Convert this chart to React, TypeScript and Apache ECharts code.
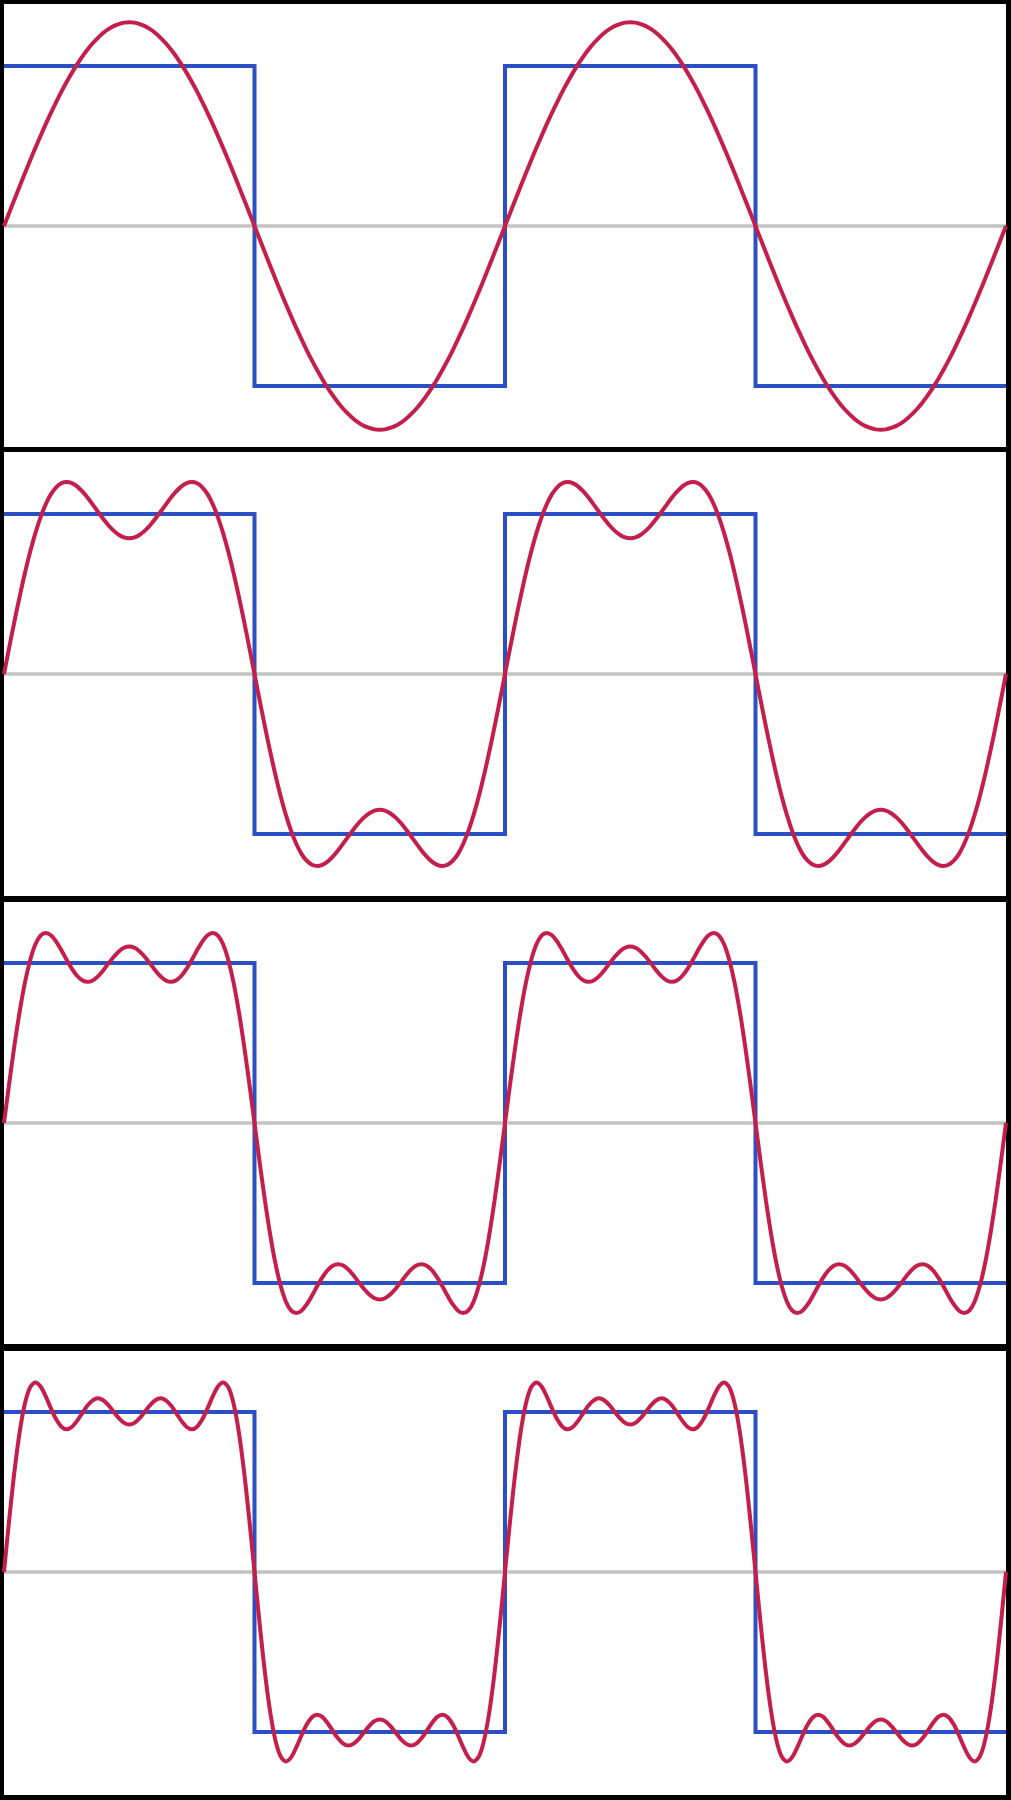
import React, { useEffect, useRef } from "react";
import * as echarts from "echarts";

// Sampling grid: 48 samples per half-period; x runs over two full periods (0..4 half-periods).
const SAMPLES_PER_HALF_PERIOD = 48;

// Square wave (blue): corner points in half-period units, level +-1
const squareX = [0, 1, 1, 2, 2, 3, 3, 4];
const squareY = [1, 1, -1, -1, 1, 1, -1, -1];

// Zero reference line (grey)
const zeroX = [0, 4];
const zeroY = [0, 0];

// Red curves (in units of the square-wave amplitude)
const oneTerm = [
  0, 0.083, 0.166, 0.248, 0.33, 0.409, 0.487, 0.563, 0.637, 0.707, 0.775, 0.84, 0.9, 0.957, 1.01, 1.059, 1.103, 1.142, 1.176, 1.206, 1.23, 1.249, 1.262, 1.271, 1.273, 1.271, 1.262, 1.249, 1.23, 1.206, 1.176, 1.142, 1.103, 1.059, 1.01, 0.957, 0.9, 0.84, 0.775, 0.707, 0.637, 0.563, 0.487, 0.409, 0.33, 0.248, 0.166, 0.083,
  0, -0.083, -0.166, -0.248, -0.33, -0.409, -0.487, -0.563, -0.637, -0.707, -0.775, -0.84, -0.9, -0.957, -1.01, -1.059, -1.103, -1.142, -1.176, -1.206, -1.23, -1.249, -1.262, -1.271, -1.273, -1.271, -1.262, -1.249, -1.23, -1.206, -1.176, -1.142, -1.103, -1.059, -1.01, -0.957, -0.9, -0.84, -0.775, -0.707, -0.637, -0.563, -0.487, -0.409, -0.33, -0.248, -0.166, -0.083,
  0, 0.083, 0.166, 0.248, 0.33, 0.409, 0.487, 0.563, 0.637, 0.707, 0.775, 0.84, 0.9, 0.957, 1.01, 1.059, 1.103, 1.142, 1.176, 1.206, 1.23, 1.249, 1.262, 1.271, 1.273, 1.271, 1.262, 1.249, 1.23, 1.206, 1.176, 1.142, 1.103, 1.059, 1.01, 0.957, 0.9, 0.84, 0.775, 0.707, 0.637, 0.563, 0.487, 0.409, 0.33, 0.248, 0.166, 0.083,
  0, -0.083, -0.166, -0.248, -0.33, -0.409, -0.487, -0.563, -0.637, -0.707, -0.775, -0.84, -0.9, -0.957, -1.01, -1.059, -1.103, -1.142, -1.176, -1.206, -1.23, -1.249, -1.262, -1.271, -1.273, -1.271, -1.262, -1.249, -1.23, -1.206, -1.176, -1.142, -1.103, -1.059, -1.01, -0.957, -0.9, -0.84, -0.775, -0.707, -0.637, -0.563, -0.487, -0.409, -0.33, -0.248, -0.166, -0.083,
  0,
];

const twoTerms = [
  0, 0.166, 0.329, 0.484, 0.63, 0.762, 0.879, 0.979, 1.061, 1.124, 1.167, 1.192, 1.2, 1.193, 1.173, 1.141, 1.103, 1.059, 1.014, 0.97, 0.93, 0.896, 0.87, 0.854, 0.849, 0.854, 0.87, 0.896, 0.93, 0.97, 1.014, 1.059, 1.103, 1.141, 1.173, 1.193, 1.2, 1.192, 1.167, 1.124, 1.061, 0.979, 0.879, 0.762, 0.63, 0.484, 0.329, 0.166,
  0, -0.166, -0.329, -0.484, -0.63, -0.762, -0.879, -0.979, -1.061, -1.124, -1.167, -1.192, -1.2, -1.193, -1.173, -1.141, -1.103, -1.059, -1.014, -0.97, -0.93, -0.896, -0.87, -0.854, -0.849, -0.854, -0.87, -0.896, -0.93, -0.97, -1.014, -1.059, -1.103, -1.141, -1.173, -1.193, -1.2, -1.192, -1.167, -1.124, -1.061, -0.979, -0.879, -0.762, -0.63, -0.484, -0.329, -0.166,
  0, 0.166, 0.329, 0.484, 0.63, 0.762, 0.879, 0.979, 1.061, 1.124, 1.167, 1.192, 1.2, 1.193, 1.173, 1.141, 1.103, 1.059, 1.014, 0.97, 0.93, 0.896, 0.87, 0.854, 0.849, 0.854, 0.87, 0.896, 0.93, 0.97, 1.014, 1.059, 1.103, 1.141, 1.173, 1.193, 1.2, 1.192, 1.167, 1.124, 1.061, 0.979, 0.879, 0.762, 0.63, 0.484, 0.329, 0.166,
  0, -0.166, -0.329, -0.484, -0.63, -0.762, -0.879, -0.979, -1.061, -1.124, -1.167, -1.192, -1.2, -1.193, -1.173, -1.141, -1.103, -1.059, -1.014, -0.97, -0.93, -0.896, -0.87, -0.854, -0.849, -0.854, -0.87, -0.896, -0.93, -0.97, -1.014, -1.059, -1.103, -1.141, -1.173, -1.193, -1.2, -1.192, -1.167, -1.124, -1.061, -0.979, -0.879, -0.762, -0.63, -0.484, -0.329, -0.166,
  0,
];

const threeTerms = [
  0, 0.248, 0.484, 0.696, 0.876, 1.016, 1.115, 1.171, 1.188, 1.173, 1.134, 1.08, 1.02, 0.965, 0.92, 0.892, 0.882, 0.891, 0.916, 0.953, 0.996, 1.037, 1.072, 1.095, 1.103, 1.095, 1.072, 1.037, 0.996, 0.953, 0.916, 0.891, 0.882, 0.892, 0.92, 0.965, 1.02, 1.08, 1.134, 1.173, 1.188, 1.171, 1.115, 1.016, 0.876, 0.696, 0.484, 0.248,
  0, -0.248, -0.484, -0.696, -0.876, -1.016, -1.115, -1.171, -1.188, -1.173, -1.134, -1.08, -1.02, -0.965, -0.92, -0.892, -0.882, -0.891, -0.916, -0.953, -0.996, -1.037, -1.072, -1.095, -1.103, -1.095, -1.072, -1.037, -0.996, -0.953, -0.916, -0.891, -0.882, -0.892, -0.92, -0.965, -1.02, -1.08, -1.134, -1.173, -1.188, -1.171, -1.115, -1.016, -0.876, -0.696, -0.484, -0.248,
  0, 0.248, 0.484, 0.696, 0.876, 1.016, 1.115, 1.171, 1.188, 1.173, 1.134, 1.08, 1.02, 0.965, 0.92, 0.892, 0.882, 0.891, 0.916, 0.953, 0.996, 1.037, 1.072, 1.095, 1.103, 1.095, 1.072, 1.037, 0.996, 0.953, 0.916, 0.891, 0.882, 0.892, 0.92, 0.965, 1.02, 1.08, 1.134, 1.173, 1.188, 1.171, 1.115, 1.016, 0.876, 0.696, 0.484, 0.248,
  0, -0.248, -0.484, -0.696, -0.876, -1.016, -1.115, -1.171, -1.188, -1.173, -1.134, -1.08, -1.02, -0.965, -0.92, -0.892, -0.882, -0.891, -0.916, -0.953, -0.996, -1.037, -1.072, -1.095, -1.103, -1.095, -1.072, -1.037, -0.996, -0.953, -0.916, -0.891, -0.882, -0.892, -0.92, -0.965, -1.02, -1.08, -1.134, -1.173, -1.188, -1.171, -1.115, -1.016, -0.876, -0.696, -0.484, -0.248,
  0,
];

const fourTerms = [
  0, 0.328, 0.628, 0.874, 1.051, 1.153, 1.184, 1.159, 1.097, 1.022, 0.954, 0.908, 0.892, 0.906, 0.944, 0.993, 1.04, 1.073, 1.085, 1.073, 1.043, 1.002, 0.962, 0.932, 0.922, 0.932, 0.962, 1.002, 1.043, 1.073, 1.085, 1.073, 1.04, 0.993, 0.944, 0.906, 0.892, 0.908, 0.954, 1.022, 1.097, 1.159, 1.184, 1.153, 1.051, 0.874, 0.628, 0.328,
  0, -0.328, -0.628, -0.874, -1.051, -1.153, -1.184, -1.159, -1.097, -1.022, -0.954, -0.908, -0.892, -0.906, -0.944, -0.993, -1.04, -1.073, -1.085, -1.073, -1.043, -1.002, -0.962, -0.932, -0.922, -0.932, -0.962, -1.002, -1.043, -1.073, -1.085, -1.073, -1.04, -0.993, -0.944, -0.906, -0.892, -0.908, -0.954, -1.022, -1.097, -1.159, -1.184, -1.153, -1.051, -0.874, -0.628, -0.328,
  0, 0.328, 0.628, 0.874, 1.051, 1.153, 1.184, 1.159, 1.097, 1.022, 0.954, 0.908, 0.892, 0.906, 0.944, 0.993, 1.04, 1.073, 1.085, 1.073, 1.043, 1.002, 0.962, 0.932, 0.922, 0.932, 0.962, 1.002, 1.043, 1.073, 1.085, 1.073, 1.04, 0.993, 0.944, 0.906, 0.892, 0.908, 0.954, 1.022, 1.097, 1.159, 1.184, 1.153, 1.051, 0.874, 0.628, 0.328,
  0, -0.328, -0.628, -0.874, -1.051, -1.153, -1.184, -1.159, -1.097, -1.022, -0.954, -0.908, -0.892, -0.906, -0.944, -0.993, -1.04, -1.073, -1.085, -1.073, -1.043, -1.002, -0.962, -0.932, -0.922, -0.932, -0.962, -1.002, -1.043, -1.073, -1.085, -1.073, -1.04, -0.993, -0.944, -0.906, -0.892, -0.908, -0.954, -1.022, -1.097, -1.159, -1.184, -1.153, -1.051, -0.874, -0.628, -0.328,
  0,
];

const curves = [oneTerm, twoTerms, threeTerms, fourTerms];

// Panel layout (pixels) and vertical extent (in square-wave amplitudes)
const panelTops = [4, 452, 902, 1351];
const panelHeights = [443, 444, 442, 444];
const yMaxs = [1.3875, 1.3875, 1.381, 1.381];
const yMins = [-1.381, -1.3875, -1.381, -1.394];

const BLUE = "#2b4fc6";
const RED = "#c41f4b";
const GREY = "#c3c3c3";

export default function App() {
  const ref = useRef<HTMLDivElement>(null);

  useEffect(() => {
    document.body.style.margin = "0";
    if (!ref.current) return;
    const chart = echarts.init(ref.current, undefined, { renderer: "svg" });

    const grid: any[] = [];
    const xAxis: any[] = [];
    const yAxis: any[] = [];
    const series: any[] = [];

    curves.forEach((curve, i) => {
      grid.push({
        left: 4,
        width: 1002,
        top: panelTops[i],
        height: panelHeights[i],
        show: true,
        backgroundColor: "#ffffff",
        borderWidth: 0,
      });
      xAxis.push({ type: "value", gridIndex: i, min: 0, max: 4, show: false });
      yAxis.push({ type: "value", gridIndex: i, min: yMins[i], max: yMaxs[i], show: false });
      series.push({
        type: "line",
        xAxisIndex: i,
        yAxisIndex: i,
        data: zeroX.map((x, k) => [x, zeroY[k]]),
        showSymbol: false,
        lineStyle: { color: GREY, width: 3.5 },
        silent: true,
        z: 1,
      });
      series.push({
        type: "line",
        xAxisIndex: i,
        yAxisIndex: i,
        data: squareX.map((x, k) => [x, squareY[k]]),
        showSymbol: false,
        lineStyle: { color: BLUE, width: 4, join: "miter" },
        silent: true,
        z: 2,
      });
      series.push({
        type: "line",
        xAxisIndex: i,
        yAxisIndex: i,
        data: curve.map((y, k) => [k / SAMPLES_PER_HALF_PERIOD, y]),
        showSymbol: false,
        smooth: 0.3,
        lineStyle: { color: RED, width: 4 },
        silent: true,
        z: 3,
      });
    });

    chart.setOption({
      animation: false,
      backgroundColor: "#000000",
      grid,
      xAxis,
      yAxis,
      series,
    });

    return () => chart.dispose();
  }, []);

  return (
    <div
      ref={ref}
      style={{ position: "absolute", left: 0, top: 0, width: 1011, height: 1800 }}
    />
  );
}
